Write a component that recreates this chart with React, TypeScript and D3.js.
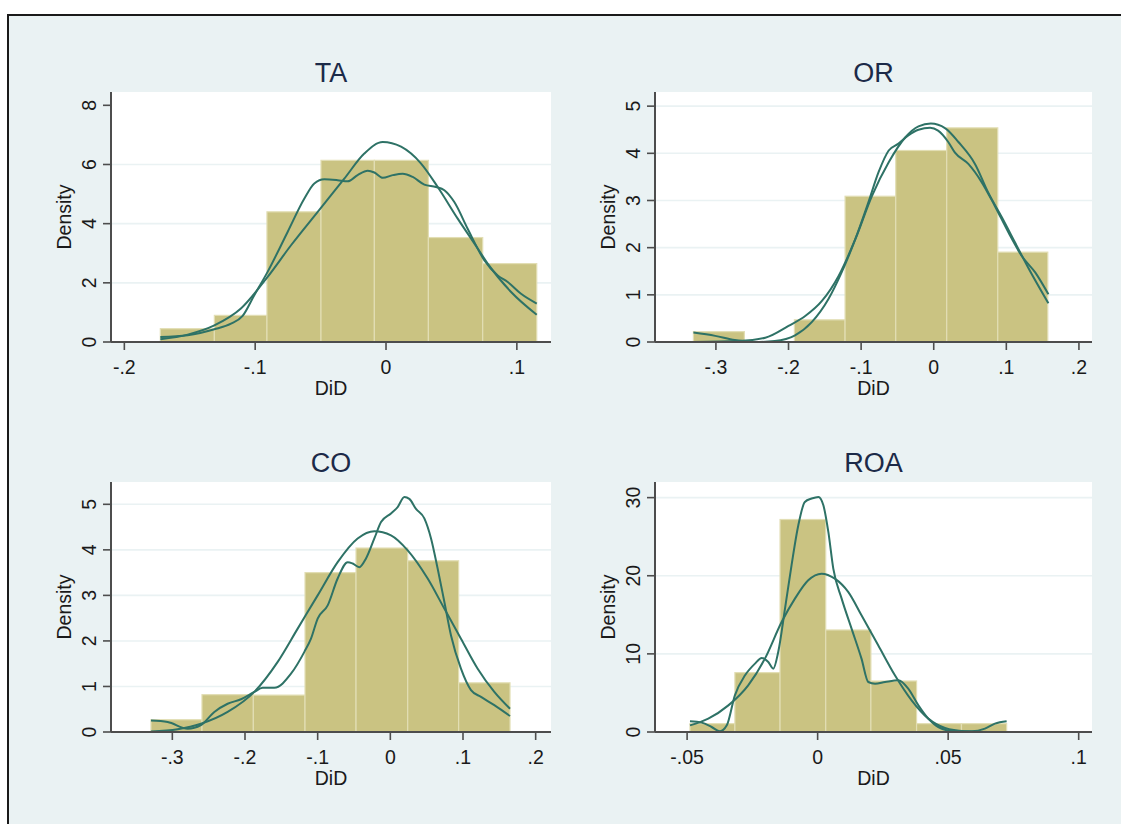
import * as d3 from 'd3';
import { useEffect, useRef } from 'react';

// histogram bin edges and heights
const taEdges = [-0.1725, -0.1312, -0.091, -0.0497, -0.0089, 0.0324, 0.0739, 0.1152];
const taHeights = [0.45, 0.9, 4.4, 6.14, 6.14, 3.53, 2.65];
const orEdges = [-0.331, -0.2608, -0.1919, -0.1221, -0.0523, 0.0179, 0.0882, 0.1571];
const orHeights = [0.22, 0, 0.47, 3.09, 4.06, 4.54, 1.905];
const coEdges = [-0.3294, -0.2592, -0.1885, -0.1174, -0.0472, 0.0239, 0.094, 0.1647];
const coHeights = [0.27, 0.82, 0.81, 3.5, 4.04, 3.76, 1.08];
const roaEdges = [-0.0489, -0.0317, -0.0144, 0.0031, 0.0204, 0.0379, 0.0551, 0.0724];
const roaHeights = [1.07, 7.6, 27.2, 13.06, 6.53, 1.07, 1.07];

// normal density curves [DiD, density]
const taNormal = [
  [-0.1725, 0.09], [-0.1516, 0.25], [-0.1312, 0.56], [-0.1109, 1.13], [-0.0905, 2.2],
  [-0.0726, 3.27], [-0.0522, 4.4], [-0.0319, 5.52], [-0.0166, 6.37], [-0.0025, 6.76],
  [0.0115, 6.6], [0.0268, 6.03], [0.0395, 5.24], [0.0548, 4.17], [0.0701, 3.16],
  [0.0777, 2.65], [0.0956, 1.69], [0.1152, 0.92],
];
const orNormal = [
  [-0.331, 0.0], [-0.269, 0.02], [-0.232, 0.09], [-0.2, 0.34], [-0.177, 0.55],
  [-0.154, 0.87], [-0.131, 1.4], [-0.108, 2.18], [-0.085, 3.1], [-0.062, 3.81],
  [-0.039, 4.34], [-0.021, 4.57], [-0.004, 4.63], [0.016, 4.53], [0.034, 4.24],
  [0.057, 3.77], [0.075, 3.17], [0.094, 2.64], [0.112, 2.11], [0.13, 1.58], [0.158, 0.82],
];
const coNormal = [
  [-0.3294, 0.01], [-0.2927, 0.06], [-0.2606, 0.18], [-0.2239, 0.44], [-0.1872, 0.88],
  [-0.155, 1.54], [-0.1275, 2.27], [-0.1, 3.0], [-0.0725, 3.73], [-0.045, 4.25],
  [-0.022, 4.41], [0.0009, 4.32], [0.0239, 3.99], [0.0514, 3.37], [0.0743, 2.71],
  [0.0972, 2.05], [0.1202, 1.39], [0.1431, 0.88], [0.1647, 0.51],
];
const roaNormal = [
  [-0.0489, 0.85], [-0.0419, 1.71], [-0.0342, 3.41], [-0.0266, 5.98], [-0.0202, 9.39],
  [-0.0138, 14.08], [-0.0087, 17.07], [-0.0036, 19.42], [0.0015, 20.27], [0.0066, 19.63],
  [0.0117, 17.93], [0.0168, 14.94], [0.0232, 11.1], [0.0296, 7.26], [0.036, 4.05],
  [0.0424, 1.71], [0.0488, 0.51], [0.0564, 0.09], [0.0654, 0.0], [0.0724, 0.0],
];

// kernel density curves [DiD, density]
const taKernel = [
  [-0.1725, 0.17], [-0.1516, 0.23], [-0.1312, 0.43], [-0.1185, 0.62], [-0.1096, 0.88],
  [-0.1007, 1.58], [-0.0905, 2.37], [-0.0752, 3.72], [-0.0624, 4.85], [-0.0548, 5.36],
  [-0.0471, 5.5], [-0.037, 5.47], [-0.0293, 5.43], [-0.0217, 5.64], [-0.014, 5.79],
  [-0.0089, 5.73], [-0.0025, 5.55], [0.0051, 5.64], [0.0127, 5.69], [0.0204, 5.58],
  [0.0293, 5.32], [0.0382, 5.24], [0.0446, 5.13], [0.0522, 4.73], [0.0624, 3.83],
  [0.0752, 2.76], [0.0854, 2.25], [0.093, 2.03], [0.1032, 1.63], [0.1152, 1.3],
];
const orKernel = [
  [-0.331, 0.2], [-0.301, 0.13], [-0.274, 0.04], [-0.246, 0.0], [-0.219, 0.02],
  [-0.191, 0.14], [-0.168, 0.42], [-0.145, 0.91], [-0.127, 1.47], [-0.108, 2.18],
  [-0.09, 2.96], [-0.076, 3.6], [-0.062, 4.06], [-0.049, 4.2], [-0.035, 4.38],
  [-0.021, 4.5], [-0.005, 4.54], [0.006, 4.48], [0.02, 4.24], [0.029, 4.02],
  [0.048, 3.77], [0.066, 3.39], [0.084, 2.89], [0.103, 2.32], [0.121, 1.83],
  [0.14, 1.47], [0.158, 1.01],
];
const coKernel = [
  [-0.3294, 0.25], [-0.3064, 0.22], [-0.2789, 0.07], [-0.2606, 0.15], [-0.2422, 0.44],
  [-0.2239, 0.62], [-0.2055, 0.72], [-0.1872, 0.88], [-0.1757, 0.97], [-0.1596, 0.97],
  [-0.1367, 1.28], [-0.1183, 1.76], [-0.1092, 2.05], [-0.1, 2.49], [-0.0862, 2.78],
  [-0.0725, 3.37], [-0.0587, 3.73], [-0.0518, 3.7], [-0.0427, 3.62], [-0.0335, 3.81],
  [-0.022, 4.25], [-0.0128, 4.61], [0.0009, 4.8], [0.0101, 4.94], [0.0193, 5.16],
  [0.0261, 5.12], [0.0353, 4.9], [0.0468, 4.69], [0.056, 4.25], [0.0651, 3.59],
  [0.0743, 2.86], [0.0835, 2.12], [0.0972, 1.39], [0.111, 0.92], [0.1248, 0.77],
  [0.1431, 0.59], [0.1647, 0.35],
];
const roaKernel = [
  [-0.0489, 1.37], [-0.0444, 1.2], [-0.0406, 0.64], [-0.0374, 0.09], [-0.0348, 0.85],
  [-0.0317, 4.69], [-0.0278, 7.26], [-0.024, 8.75], [-0.0214, 9.48], [-0.0189, 8.96],
  [-0.017, 8.11], [-0.0151, 10.24], [-0.0125, 15.79], [-0.01, 21.34], [-0.0074, 26.46],
  [-0.0049, 29.45], [-0.0023, 29.88], [0.0003, 30.09], [0.0022, 29.02], [0.0041, 25.61],
  [0.006, 20.91], [0.0092, 17.07], [0.013, 13.23], [0.0168, 9.39], [0.0194, 6.4],
  [0.022, 6.19], [0.0258, 6.4], [0.0309, 6.62], [0.0347, 5.55], [0.0386, 3.41],
  [0.0424, 1.71], [0.0462, 0.64], [0.0526, 0.09], [0.059, 0.09], [0.0641, 0.43],
  [0.0679, 1.07], [0.0724, 1.37],
];

// axis ticks and labels
const taXTicks = [-0.2, -0.1, 0, 0.1];
const taXLabels = ['-.2', '-.1', '0', '.1'];
const wideXTicks = [-0.3, -0.2, -0.1, 0, 0.1, 0.2];
const wideXLabels = ['-.3', '-.2', '-.1', '0', '.1', '.2'];
const roaXTicks = [-0.05, 0, 0.05, 0.1];
const roaXLabels = ['-.05', '0', '.05', '.1'];
const taYTicks = [0, 2, 4, 6, 8];
const fiveYTicks = [0, 1, 2, 3, 4, 5];
const roaYTicks = [0, 10, 20, 30];

const panels = [
  { title: 'TA', left: 111, top: 92, xDomain: [-0.2102, 0.1261], yMax: 8.45,
    xTicks: taXTicks, xLabels: taXLabels, yTicks: taYTicks, grid: [2, 4, 6],
    edges: taEdges, heights: taHeights, normal: taNormal, kernel: taKernel },
  { title: 'OR', left: 655, top: 92, xDomain: [-0.3839, 0.218], yMax: 5.3,
    xTicks: wideXTicks, xLabels: wideXLabels, yTicks: fiveYTicks, grid: [1, 2, 3, 4, 5],
    edges: orEdges, heights: orHeights, normal: orNormal, kernel: orKernel },
  { title: 'CO', left: 111, top: 482, xDomain: [-0.3844, 0.2211], yMax: 5.49,
    xTicks: wideXTicks, xLabels: wideXLabels, yTicks: fiveYTicks, grid: [1, 2, 3, 4, 5],
    edges: coEdges, heights: coHeights, normal: coNormal, kernel: coKernel },
  { title: 'ROA', left: 655, top: 482, xDomain: [-0.0623, 0.1051], yMax: 32.0,
    xTicks: roaXTicks, xLabels: roaXLabels, yTicks: roaYTicks, grid: [10, 20, 30],
    edges: roaEdges, heights: roaHeights, normal: roaNormal, kernel: roaKernel },
];

const App = () => {
  const ref = useRef(null);

  useEffect(() => {
    const svg = d3.select(ref.current);
    svg.selectAll('*').remove();

    const font = '"Liberation Sans", Arial, sans-serif';
    const bg = '#EAF2F3';
    const axisColor = '#4d4d4d';
    const lineColor = '#2E7266';
    const labelSize = '19.5px';

    // outer frame (runs off the right and bottom edge)
    svg.append('rect')
      .attr('x', 8).attr('y', 15)
      .attr('width', 1200).attr('height', 900)
      .attr('fill', bg)
      .attr('stroke', '#1a1a1a')
      .attr('stroke-width', 2);

    panels.forEach(p => {
      const w = p.left === 111 ? 440 : 437;
      const h = 250;
      const g = svg.append('g').attr('transform', `translate(${p.left},${p.top})`);

      const x = d3.scaleLinear().domain(p.xDomain).range([0, w]);
      const y = d3.scaleLinear().domain([0, p.yMax]).range([h, 0]);

      // plot region
      g.append('rect').attr('width', w).attr('height', h).attr('fill', '#fff');

      // grid
      g.selectAll('.grid')
        .data(p.grid)
        .enter().append('line')
        .attr('x1', 0).attr('x2', w)
        .attr('y1', d => y(d)).attr('y2', d => y(d))
        .attr('stroke', bg)
        .attr('stroke-width', 1.6);

      // bars
      g.selectAll('.bar')
        .data(p.heights.map((v, i) => ({ x0: p.edges[i], x1: p.edges[i + 1], v })))
        .enter().append('rect')
        .filter(d => d.v > 0)
        .attr('x', d => x(d.x0))
        .attr('y', d => y(d.v))
        .attr('width', d => x(d.x1) - x(d.x0))
        .attr('height', d => y(0) - y(d.v))
        .attr('fill', '#CAC382')
        .attr('stroke', '#E2DEB4')
        .attr('stroke-width', 1.2);

      const line = d3.line()
        .x(d => x(d[0]))
        .y(d => y(d[1]))
        .curve(d3.curveMonotoneX);

      [p.kernel, p.normal].forEach(c => {
        g.append('path')
          .attr('d', line(c))
          .attr('fill', 'none')
          .attr('stroke', lineColor)
          .attr('stroke-width', 2);
      });

      // x axis
      g.append('line')
        .attr('x1', 0).attr('x2', w).attr('y1', h).attr('y2', h)
        .attr('stroke', axisColor).attr('stroke-width', 2);
      p.xTicks.forEach((t, i) => {
        g.append('line')
          .attr('x1', x(t)).attr('x2', x(t)).attr('y1', h).attr('y2', h + 8)
          .attr('stroke', axisColor).attr('stroke-width', 1.6);
        g.append('text')
          .attr('x', x(t)).attr('y', h + 25)
          .attr('text-anchor', 'middle')
          .attr('dominant-baseline', 'central')
          .style('font-family', font).style('font-size', labelSize)
          .attr('fill', '#1a1a1a')
          .text(p.xLabels[i]);
      });
      g.append('text')
        .attr('x', w / 2).attr('y', h + 46)
        .attr('text-anchor', 'middle')
        .attr('dominant-baseline', 'central')
        .style('font-family', font).style('font-size', labelSize)
        .attr('fill', '#1a1a1a')
        .text('DiD');

      // y axis
      g.append('line')
        .attr('x1', 0).attr('x2', 0).attr('y1', 0).attr('y2', h)
        .attr('stroke', axisColor).attr('stroke-width', 2);
      p.yTicks.forEach(t => {
        g.append('line')
          .attr('x1', -8).attr('x2', 0).attr('y1', y(t)).attr('y2', y(t))
          .attr('stroke', axisColor).attr('stroke-width', 1.6);
        g.append('text')
          .attr('transform', `translate(-22,${y(t)}) rotate(-90)`)
          .attr('text-anchor', 'middle')
          .attr('dominant-baseline', 'central')
          .style('font-family', font).style('font-size', labelSize)
          .attr('fill', '#1a1a1a')
          .text(t);
      });
      g.append('text')
        .attr('transform', `translate(-47,${h / 2}) rotate(-90)`)
        .attr('text-anchor', 'middle')
        .attr('dominant-baseline', 'central')
        .style('font-family', font).style('font-size', labelSize)
        .attr('fill', '#1a1a1a')
        .text('Density');

      // title
      g.append('text')
        .attr('x', w / 2).attr('y', -19)
        .attr('text-anchor', 'middle')
        .attr('dominant-baseline', 'central')
        .style('font-family', font).style('font-size', '27px')
        .attr('fill', '#1C2A48')
        .text(p.title);
    });
  }, []);

  return (
    <svg ref={ref} width={1121} height={824}
      style={{ position: 'absolute', left: 0, top: 0, background: '#fff' }} />
  );
};

export default App;
